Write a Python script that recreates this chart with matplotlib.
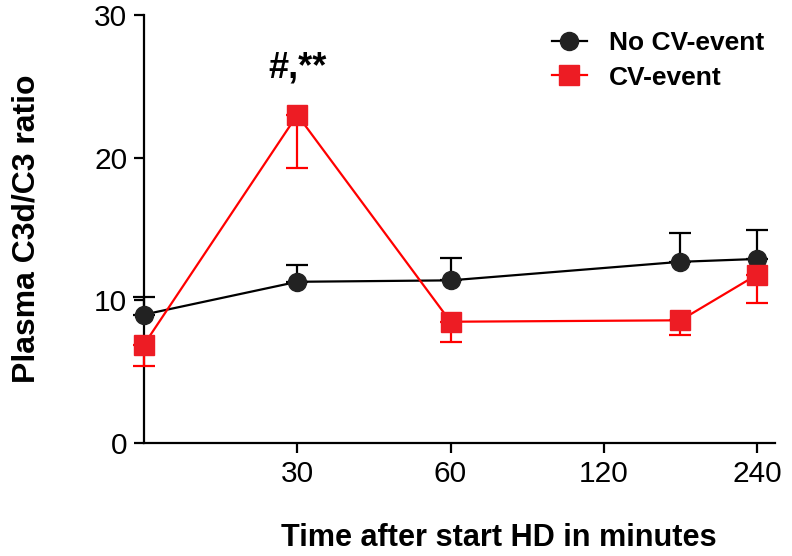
import numpy as np
import matplotlib
matplotlib.use("Agg")
import matplotlib.pyplot as plt
from matplotlib.lines import Line2D

plt.rcParams['font.family'] = ['Liberation Sans', 'DejaVu Sans']

# minutes after start of HD
time = [0, 30, 60, 180, 240]

no_cv_mean = [9.0, 11.3, 11.4, 12.7, 12.9]
no_cv_sem = [1.2, 1.2, 1.6, 2.0, 2.0]

cv_mean = [6.9, 23.0, 8.5, 8.6, 11.8]
cv_sem = [1.5, 3.7, 1.4, 1.0, 2.0]

xtick_vals = [30, 60, 120, 240]
ytick_vals = [0, 10, 20, 30]

# the axis is not linear: 0,30,60,120,240 are evenly spaced
bp_t = [0, 30, 60, 120, 240, 360]
bp_p = [0, 1, 2, 3, 4, 5]

def fwd(x):
    return np.interp(x, bp_t, bp_p)

def inv(x):
    return np.interp(x, bp_p, bp_t)

fig = plt.figure(figsize=(7.92, 5.56), dpi=100)
ax = fig.add_axes([144/792, 113/556, 631/792, 428/556])
ax.set_xscale('function', functions=(fwd, inv))

red_line = '#ff0000'
red_fill = '#ed1c24'
blk = '#222222'

ax.errorbar(time, no_cv_mean, yerr=[np.zeros(len(time)), no_cv_sem],
            color='black', lw=1.6, marker='o', ms=13, mfc=blk, mec=blk,
            capsize=8, capthick=1.6, elinewidth=1.6, clip_on=False, zorder=3)
ax.errorbar(time, cv_mean, yerr=[cv_sem, np.zeros(len(time))],
            color=red_line, lw=1.6, marker='s', ms=14, mfc=red_fill, mec=red_fill,
            capsize=8, capthick=1.6, elinewidth=1.6, clip_on=False, zorder=4)

ax.text(30, 25.6, '#,**', ha='center', va='baseline', fontsize=26, fontweight='bold')

ax.set_xlim(0, 254)
ax.set_ylim(0, 30)
ax.set_xticks(xtick_vals)
ax.set_xticklabels([str(v) for v in xtick_vals])
ax.set_yticks(ytick_vals)
ax.minorticks_off()

ax.spines['top'].set_visible(False)
ax.spines['right'].set_visible(False)
for s in ['left', 'bottom']:
    ax.spines[s].set_linewidth(1.6)
ax.tick_params(axis='both', direction='out', length=7, width=1.6, labelsize=21.5, pad=5)

ax.set_xlabel('Time after start HD in minutes', fontsize=22.1, fontweight='bold')
ax.xaxis.set_label_coords(0.5626, -0.187)
ax.set_ylabel('Plasma C3d/C3 ratio', fontsize=23, fontweight='bold', labelpad=38)

handles = [
    Line2D([], [], color='black', lw=1.6, marker='o', ms=13, mfc=blk, mec=blk),
    Line2D([], [], color=red_line, lw=1.6, marker='s', ms=14, mfc=red_fill, mec=red_fill),
]
ax.legend(handles, ['No CV-event', 'CV-event'], loc='upper right',
          bbox_to_anchor=(1.02, 1.018), frameon=False,
          prop={'size': 19, 'weight': 'bold'}, handlelength=1.33,
          handletextpad=0.83, labelspacing=0.4)

fig.savefig('out.png', dpi=100)
